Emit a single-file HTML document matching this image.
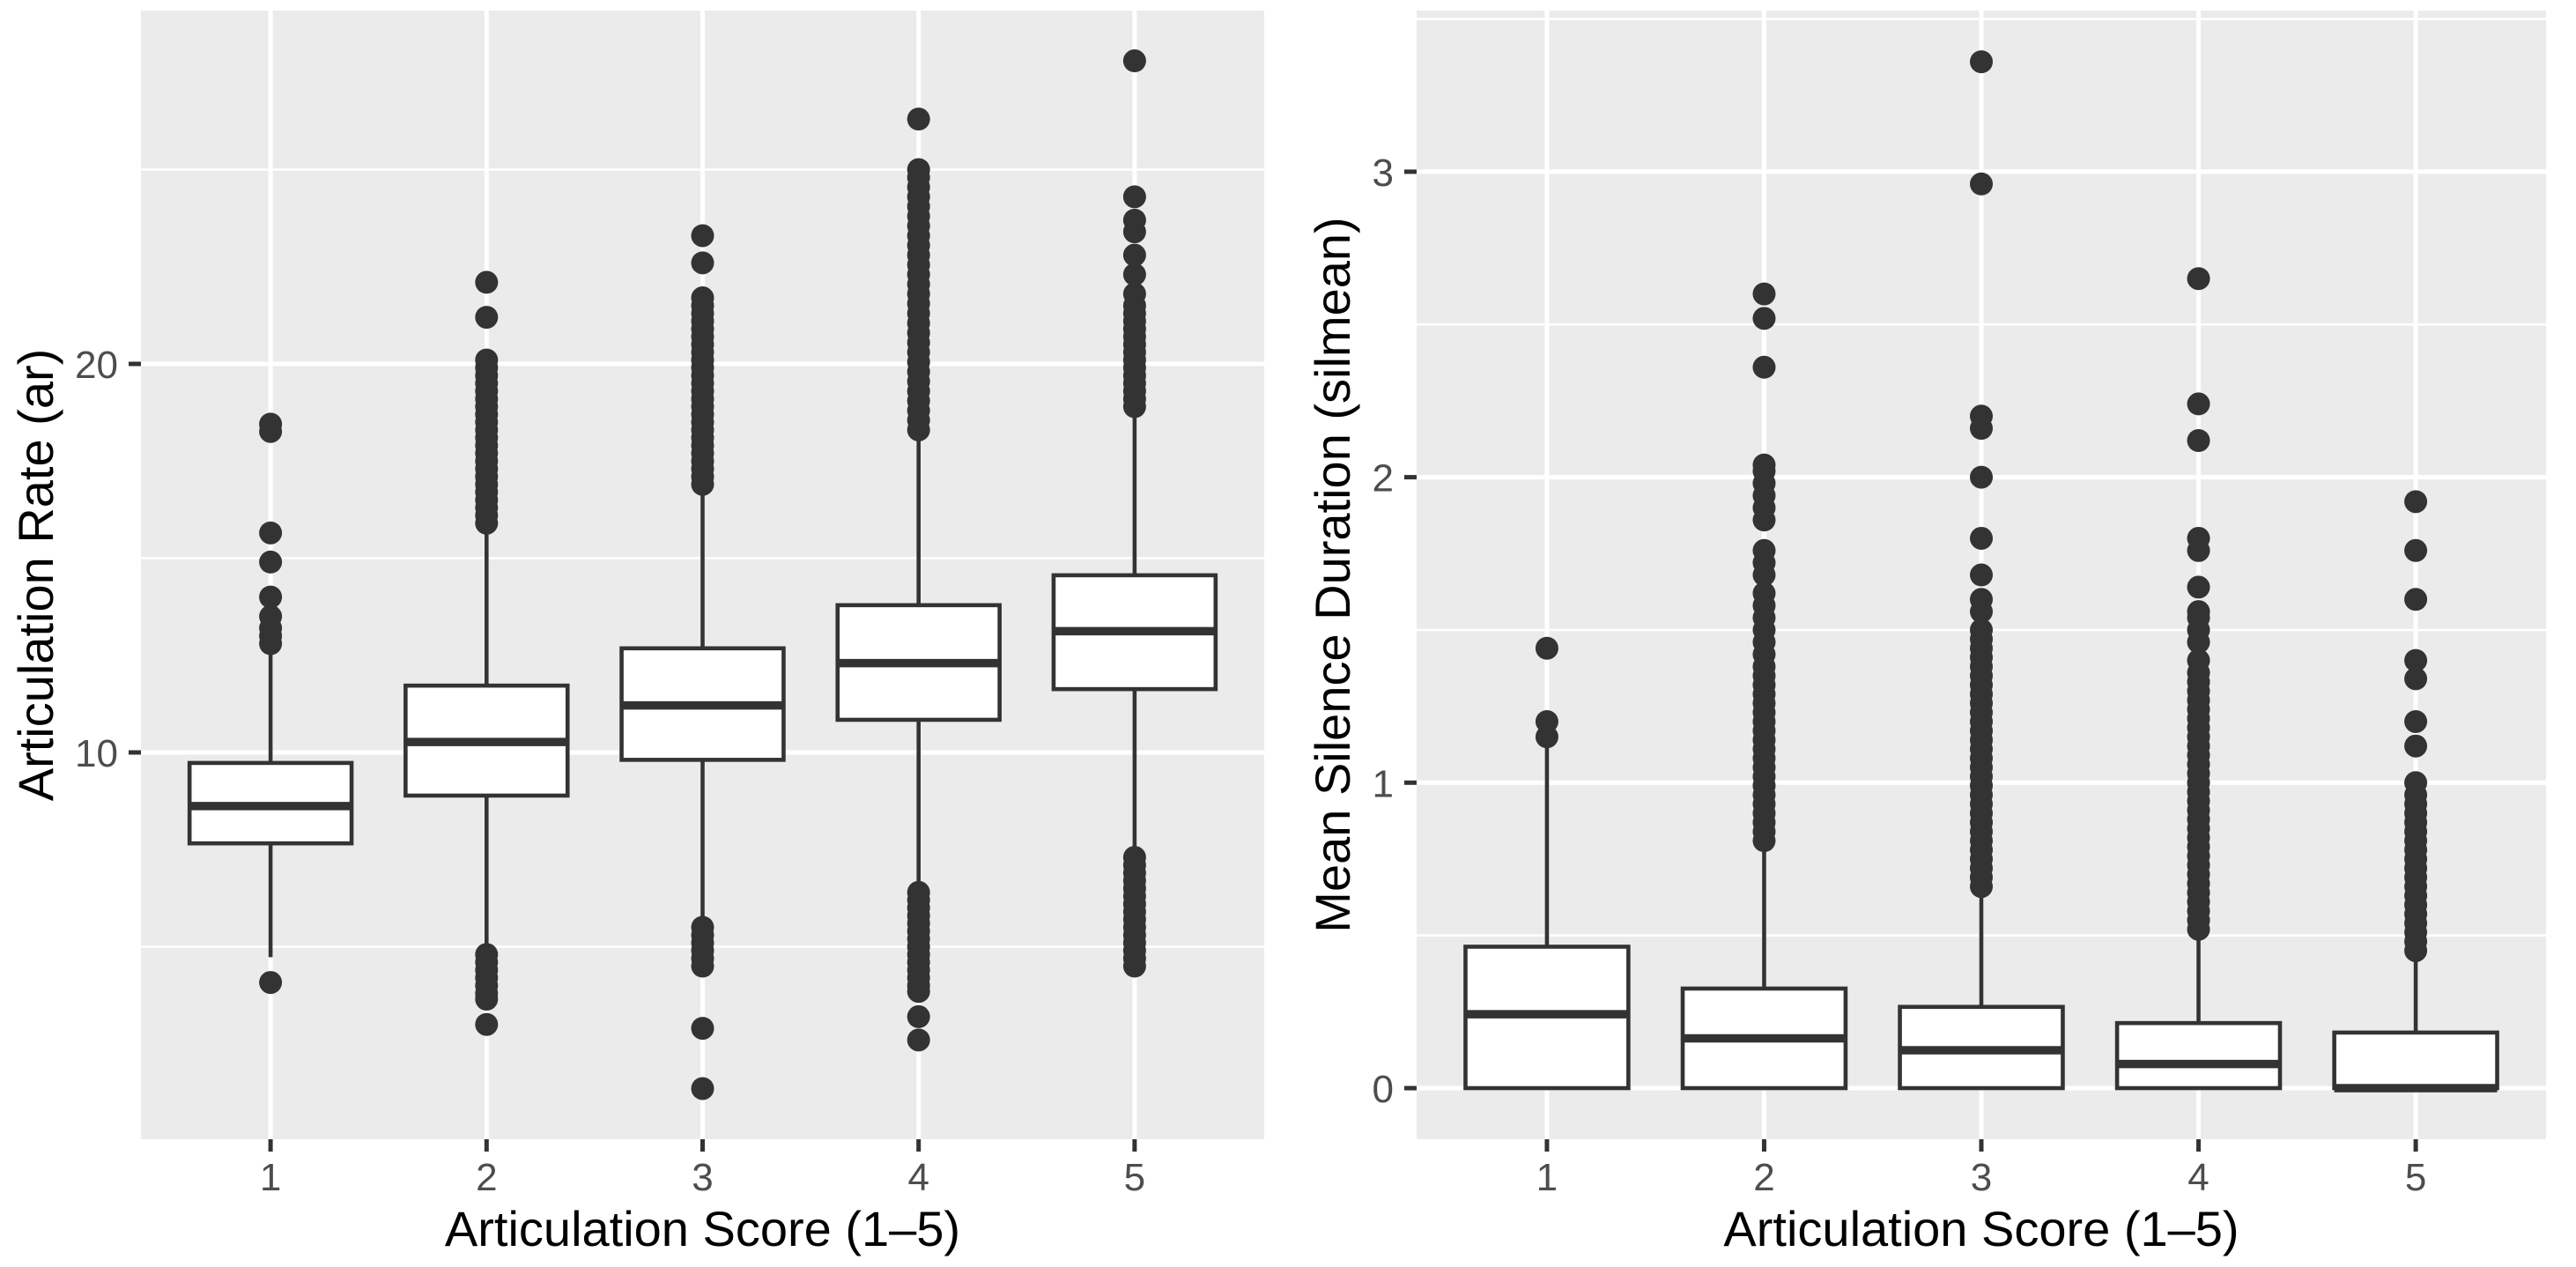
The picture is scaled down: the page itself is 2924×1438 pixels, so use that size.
<!DOCTYPE html>
<html><head><meta charset="utf-8"><style>
html,body{margin:0;padding:0;background:#fff;}
svg{display:block;font-family:"Liberation Sans",sans-serif;}
</style></head><body>
<svg id="chart" width="2924" height="1438" viewBox="0 0 2924 1438" xmlns="http://www.w3.org/2000/svg"></svg>
<script>
// ---- Left panel data: Articulation Rate ----
const categories = ["1","2","3","4","5"];
const arQ1 = [7.66, 8.89, 9.81, 10.84, 11.63];
const arMedian = [8.62, 10.27, 11.21, 12.3, 13.12];
const arQ3 = [9.73, 11.72, 12.68, 13.79, 14.56];
const arWhiskerLow = [4.73, 4.83, 5.52, 6.46, 7.3];
const arWhiskerHigh = [12.74, 15.88, 16.92, 18.24, 18.9];
const arOut1 = [4.08, 12.8, 13.0, 13.2, 13.5, 14.0, 14.9, 15.65, 18.26, 18.45];
const arOut2 = [15.9,16.1,16.3,16.5,16.7,16.9,17.1,17.3,17.5,17.7,17.9,18.1,18.3,18.5,18.7,18.9,19.1,19.3,19.5,19.7,19.9,20.1,21.2,22.1,4.8,4.6,4.4,4.2,4.0,3.8,3.65,3.0];
const arOut3 = [16.9,17.1,17.3,17.5,17.7,17.9,18.1,18.3,18.5,18.7,18.9,19.1,19.3,19.5,19.7,19.9,20.1,20.3,20.5,20.7,20.9,21.1,21.3,21.5,21.7,22.6,23.3,5.5,5.3,5.1,4.9,4.7,4.5,2.9,1.35];
const arOut4 = [18.3,18.55,18.8,19.05,19.3,19.55,19.8,20.05,20.3,20.55,20.8,21.05,21.3,21.55,21.8,22.05,22.3,22.55,22.8,23.05,23.3,23.55,23.8,24.05,24.3,24.55,24.8,25.0,26.3,6.4,6.2,6.0,5.8,5.6,5.4,5.2,5.0,4.8,4.6,4.4,4.2,4.0,3.85,3.2,2.6];
const arOut5 = [18.9,19.1,19.3,19.5,19.7,19.9,20.1,20.3,20.5,20.7,20.9,21.1,21.3,21.5,21.8,22.3,22.8,23.4,23.7,24.3,27.8,7.3,7.1,6.9,6.7,6.5,6.3,6.1,5.9,5.7,5.5,5.3,5.1,4.9,4.7,4.5];
const arOutliers = [arOut1, arOut2, arOut3, arOut4, arOut5];
const arTicks = [10, 20];
const arMinor = [5, 15, 25];

// ---- Right panel data: Mean Silence Duration ----
const smQ1 = [0, 0, 0, 0, 0];
const smMedian = [0.242, 0.163, 0.124, 0.079, 0.0];
const smQ3 = [0.463, 0.326, 0.266, 0.213, 0.182];
const smWhiskerLow = [0, 0, 0, 0, 0];
const smWhiskerHigh = [1.12, 0.81, 0.663, 0.524, 0.453];
const smOut1 = [1.15, 1.2, 1.44];
const smOut2 = [0.81,0.84,0.87,0.9,0.93,0.96,0.99,1.02,1.05,1.08,1.11,1.14,1.17,1.2,1.23,1.26,1.29,1.32,1.35,1.38,1.42,1.46,1.5,1.54,1.58,1.62,1.68,1.72,1.76,1.86,1.9,1.94,1.98,2.02,2.04,2.36,2.52,2.6];
const smOut3 = [0.66,0.69,0.72,0.75,0.78,0.81,0.84,0.87,0.9,0.93,0.96,0.99,1.02,1.05,1.08,1.11,1.14,1.17,1.2,1.23,1.26,1.29,1.32,1.35,1.38,1.41,1.44,1.47,1.5,1.56,1.6,1.68,1.8,2.0,2.16,2.2,2.96,3.36];
const smOut4 = [0.52,0.55,0.58,0.61,0.64,0.67,0.7,0.73,0.76,0.79,0.82,0.85,0.88,0.91,0.94,0.97,1.0,1.03,1.06,1.09,1.12,1.15,1.18,1.21,1.24,1.27,1.3,1.33,1.36,1.4,1.46,1.5,1.54,1.56,1.64,1.76,1.8,2.12,2.24,2.65];
const smOut5 = [0.45,0.48,0.51,0.54,0.57,0.6,0.63,0.66,0.69,0.72,0.75,0.78,0.81,0.84,0.87,0.9,0.93,0.96,1.0,1.12,1.2,1.34,1.4,1.6,1.76,1.92];
const smOutliers = [smOut1, smOut2, smOut3, smOut4, smOut5];
const smTicks = [0, 1, 2, 3];
const smMinor = [0.5, 1.5, 2.5, 3.5];

const NS = "http://www.w3.org/2000/svg";
const svg = document.getElementById("chart");
function mk(tag, attrs, parent) {
  const e = document.createElementNS(NS, tag);
  for (const k in attrs) e.setAttribute(k, attrs[k]);
  (parent || svg).appendChild(e);
  return e;
}

function drawPanel(p) {
  const g = mk("g", {});
  
  
  const bg = mk("rect", {x: p.x0, y: p.y0, width: p.x1 - p.x0, height: p.y1 - p.y0, fill: "#EBEBEB"}, g);
  
  
  const unit = (p.x1 - p.x0) / 5.2;
  const xs = i => p.x0 + (0.6 + i) * unit;
  const ys = v => p.yZero - p.yScale * v;
  p.minor.forEach(v => {
    const l = mk("line", {x1: p.x0, x2: p.x1, y1: ys(v), y2: ys(v), stroke: "#fff", "stroke-width": 2.6}, g);
    
    
  });
  p.ticks.forEach(v => {
    const l = mk("line", {x1: p.x0, x2: p.x1, y1: ys(v), y2: ys(v), stroke: "#fff", "stroke-width": 5}, g);
    
    
    const t = mk("line", {x1: p.x0 - 14, x2: p.x0, y1: ys(v), y2: ys(v), stroke: "#333", "stroke-width": 5}, g);
    
    
    const tx = mk("text", {x: p.x0 - 26, y: ys(v) + 16, "text-anchor": "end", "font-size": 44, fill: "#4D4D4D"}, g);
    tx.textContent = String(v);
    
    
  });
  categories.forEach((c, i) => {
    const l = mk("line", {x1: xs(i), x2: xs(i), y1: p.y0, y2: p.y1, stroke: "#fff", "stroke-width": 5}, g);
    
    
    const t = mk("line", {x1: xs(i), x2: xs(i), y1: p.y1, y2: p.y1 + 14, stroke: "#333", "stroke-width": 5}, g);
    
    
    const tx = mk("text", {x: xs(i), y: p.y1 + 58, "text-anchor": "middle", "font-size": 44, fill: "#4D4D4D"}, g);
    tx.textContent = c;
    
    
  });
  categories.forEach((c, i) => {
    const bx = mk("g", {});
    g.appendChild(bx);
    
    
    const cx = xs(i), hw = 0.375 * unit;
    const w1 = mk("line", {x1: cx, x2: cx, y1: ys(p.q3[i]), y2: ys(p.wh[i]), stroke: "#333", "stroke-width": 4.6}, bx);
    
    
    const w2 = mk("line", {x1: cx, x2: cx, y1: ys(p.q1[i]), y2: ys(p.wl[i]), stroke: "#333", "stroke-width": 4.6}, bx);
    
    
    const r = mk("rect", {x: cx - hw, y: ys(p.q3[i]), width: 2 * hw, height: ys(p.q1[i]) - ys(p.q3[i]), fill: "#fff", stroke: "#333", "stroke-width": 4.6}, bx);
    
    
    const m = mk("line", {x1: cx - hw, x2: cx + hw, y1: ys(p.med[i]), y2: ys(p.med[i]), stroke: "#333", "stroke-width": 9.5}, bx);
    
    
    p.out[i].forEach(v => {
      const pt = mk("circle", {cx: cx, cy: ys(v), r: 13, fill: "#333"}, bx);
      
      
    });
  });
  const xt = mk("text", {x: (p.x0 + p.x1) / 2, y: 1414, "text-anchor": "middle", "font-size": 56, fill: "#000"}, g);
  xt.textContent = "Articulation Score (1\u20135)";
  
  
  const cy = (p.y0 + p.y1) / 2;
  const yt = mk("text", {x: p.ytx, y: cy, "text-anchor": "middle", "font-size": 56, fill: "#000", transform: "rotate(-90 " + p.ytx + " " + cy + ")"}, g);
  yt.textContent = p.ytitle;
  
  
}

drawPanel({name: "articulation-rate-panel", x0: 160, x1: 1435, y0: 12, y1: 1293, yZero: 1295, yScale: 44.1,
  q1: arQ1, q3: arQ3, med: arMedian, wl: arWhiskerLow, wh: arWhiskerHigh, out: arOutliers,
  ticks: arTicks, minor: arMinor, ytx: 60, ytitle: "Articulation Rate (ar)"});
drawPanel({name: "silence-duration-panel", x0: 1608, x1: 2890, y0: 12, y1: 1293, yZero: 1235, yScale: 346.7,
  q1: smQ1, q3: smQ3, med: smMedian, wl: smWhiskerLow, wh: smWhiskerHigh, out: smOutliers,
  ticks: smTicks, minor: smMinor, ytx: 1532, ytitle: "Mean Silence Duration (silmean)"});
</script>
</body></html>
